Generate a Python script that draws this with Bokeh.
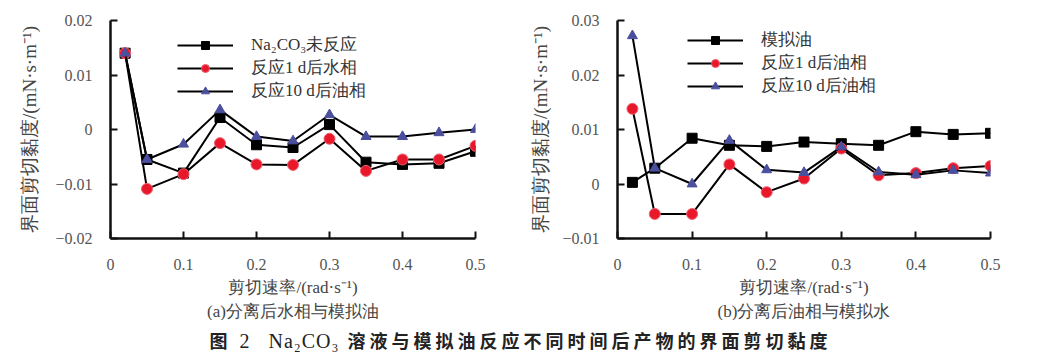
from bokeh.plotting import figure
from bokeh.models import Legend, LegendItem, FixedTicker, Title, Div, Range1d
from bokeh.layouts import row, column
from bokeh.embed import file_html
from bokeh.resources import INLINE

# ---- data ----
shear_rate = [0.02, 0.05, 0.1, 0.15, 0.2, 0.25, 0.3, 0.35, 0.4, 0.45, 0.5]

# (a) water phase vs simulated oil
a_unreacted = [0.014, -0.0055, -0.0080, 0.0022, -0.0028, -0.0033, 0.0009, -0.0060, -0.0064, -0.0062, -0.0040]
a_1d_water = [0.014, -0.0109, -0.0082, -0.0025, -0.0064, -0.0065, -0.0017, -0.0076, -0.0055, -0.0055, -0.0030]
a_10d_oil = [0.014, -0.0055, -0.0027, 0.0036, -0.0013, -0.0021, 0.0027, -0.0013, -0.0013, -0.0006, 0.0000]
a_labels = ["Na₂CO₃未反应", "反应1 d后水相", "反应10 d后油相"]

# (b) oil phase vs simulated water
b_sim_oil = [0.0003, 0.0029, 0.0084, 0.0071, 0.0069, 0.0077, 0.0074, 0.0071, 0.0096, 0.0091, 0.0093]
b_1d_oil = [0.0138, -0.0055, -0.0055, 0.0036, -0.0015, 0.0010, 0.0065, 0.0016, 0.0020, 0.0029, 0.0033]
b_10d_oil = [0.0272, 0.0029, 0.0000, 0.0080, 0.0026, 0.0021, 0.0068, 0.0022, 0.0017, 0.0025, 0.0020]
b_labels = ["模拟油", "反应1 d后油相", "反应10 d后油相"]

x_ticks = [0, 0.1, 0.2, 0.3, 0.4, 0.5]
x_tick_labels = ["0", "0.1", "0.2", "0.3", "0.4", "0.5"]
a_y_ticks = [-0.02, -0.01, 0, 0.01, 0.02]
a_y_tick_labels = ["−0.02", "−0.01", "0", "0.01", "0.02"]
b_y_ticks = [-0.01, 0, 0.01, 0.02, 0.03]
b_y_tick_labels = ["−0.01", "0", "0.01", "0.02", "0.03"]

x_title = "剪切速率/(rad·s⁻¹)"
y_title = "界面剪切黏度/(mN·s·m⁻¹)"
sub_a = "(a)分离后水相与模拟油"
sub_b = "(b)分离后油相与模拟水"

SERIF = "serif"
BLUE = "#4a4f9e"
RED = "#e8182a"


def make_panel(width, border_left, border_right, yr, yticks, ylabels, series, labels, subtitle,
               legend_xy, ylab_standoff):
    p = figure(width=width, height=320, output_backend="svg", toolbar_location=None,
               x_range=Range1d(0, 0.5), y_range=Range1d(*yr),
               min_border_left=border_left, min_border_right=border_right,
               min_border_top=20, min_border_bottom=20)
    p.outline_line_color = None
    p.grid.visible = False
    p.background_fill_color = "white"

    # axes
    p.xaxis.ticker = FixedTicker(ticks=x_ticks)
    p.xaxis.major_label_overrides = dict(zip(x_ticks, x_tick_labels))
    p.yaxis.ticker = FixedTicker(ticks=yticks)
    p.yaxis.major_label_overrides = dict(zip(yticks, ylabels))
    for ax in (p.xaxis, p.yaxis):
        ax.axis_line_width = 2.5
        ax.axis_line_color = "#111111"
        ax.major_tick_in = 7
        ax.major_tick_out = 0
        ax.major_tick_line_width = 2
        ax.major_tick_line_color = "#111111"
        ax.minor_tick_line_color = None
        ax.major_label_text_font = SERIF
        ax.major_label_text_font_size = "16px"
        ax.major_label_text_color = "#555555"
        ax.axis_label_text_font = SERIF
        ax.axis_label_text_font_style = "normal"
        ax.axis_label_text_color = "#444444"
    p.xaxis.axis_label_text_font_size = "17px"
    p.yaxis.axis_label_text_font_size = "19px"
    p.xaxis.major_label_standoff = 20
    p.xaxis.axis_label = x_title
    p.xaxis.axis_label_standoff = 5
    p.yaxis.major_label_standoff = 18
    p.yaxis.axis_label = y_title
    p.yaxis.axis_label_standoff = ylab_standoff

    sub = Title(text=subtitle, align="center", text_font=SERIF, text_font_size="17px",
                text_font_style="normal", text_color="#444444", standoff=0)
    p.add_layout(sub, "below")

    s1, s2, s3 = series
    r_l1 = p.line(shear_rate, s1, line_color="black", line_width=2)
    r_m1 = p.scatter(shear_rate, s1, marker="square", size=10, fill_color="black", line_color="black")
    r_l2 = p.line(shear_rate, s2, line_color="black", line_width=2)
    r_m2 = p.scatter(shear_rate, s2, marker="circle", size=11, fill_color=RED, line_color="#f06070", line_width=1)
    r_l3 = p.line(shear_rate, s3, line_color="black", line_width=2)
    r_m3 = p.scatter(shear_rate, s3, marker="triangle", size=10, fill_color=BLUE, line_color=BLUE)
    items = [LegendItem(label=labels[0], renderers=[r_l1, r_m1]),
             LegendItem(label=labels[1], renderers=[r_l2, r_m2]),
             LegendItem(label=labels[2], renderers=[r_l3, r_m3])]
    leg = Legend(items=items, location=legend_xy, glyph_width=56, glyph_height=20,
                 label_height=20, label_standoff=18, spacing=0, padding=0, margin=0,
                 border_line_color=None, background_fill_alpha=0,
                 label_text_font=SERIF, label_text_font_size="17px", label_text_color="#333333")
    p.add_layout(leg, "center")
    return p


pa = make_panel(520, 110, 45, (-0.02, 0.02), a_y_ticks, a_y_tick_labels,
                (a_unreacted, a_1d_water, a_10d_oil), a_labels, sub_a, (67, 136), 12)
pb = make_panel(511, 97, 41, (-0.01, 0.03), b_y_ticks, b_y_tick_labels,
                (b_sim_oil, b_1d_oil, b_10d_oil), b_labels, sub_b, (70, 141), 8)

caption = Div(text=(
    '<div style="width:1031px;text-align:center;font-family:\'Noto Sans CJK SC\';'
    'font-size:18px;font-weight:bold;color:#222;letter-spacing:4px;padding-top:2px;">'
    '图 <span style="font-family:\'Liberation Serif\';font-weight:normal;font-size:20px;letter-spacing:1px;">2&nbsp;&nbsp;&nbsp;Na₂CO₃</span> '
    '溶液与模拟油反应不同时间后产物的界面剪切黏度</div>'),
    width=1031, height=28)

layout = column(row(pa, pb), caption, spacing=0)

open("out.html", "w").write(file_html(layout, INLINE))
